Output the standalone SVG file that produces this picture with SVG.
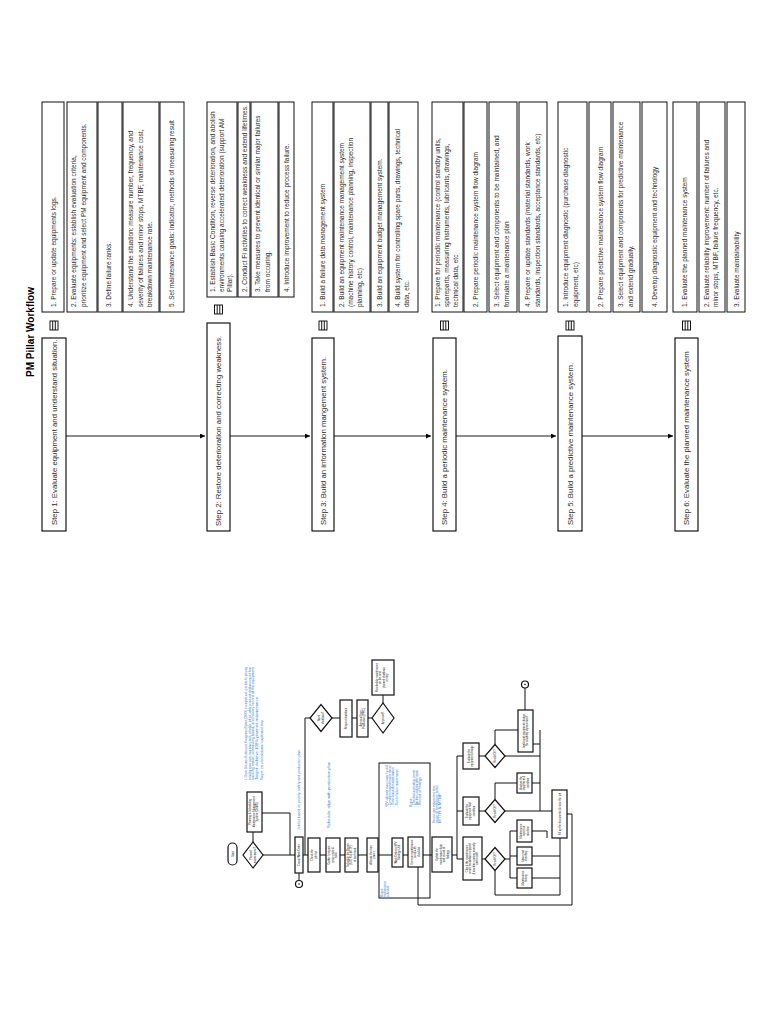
<svg xmlns="http://www.w3.org/2000/svg" width="768" height="1024" viewBox="0 0 768 1024">
<style>
text{font-family:"Liberation Sans",Arial,sans-serif;fill:#2a2a2a}
.title{font-size:10px;font-weight:bold;text-anchor:middle;fill:#000}
.step{font-size:7.8px}
.li{font-size:6.5px}
.box{fill:#fff;stroke:#000;stroke-width:1.1}
.lbox{fill:#fff;stroke:#111;stroke-width:1}
.ic{fill:#fff;stroke:#000;stroke-width:0.9}
.ln{fill:none;stroke:#000;stroke-width:0.9}
.fc{fill:#fff;stroke:#111;stroke-width:1.2}
.fl{fill:none;stroke:#111;stroke-width:1}
.ft{font-size:2.6px;text-anchor:middle;fill:#222}
.bl{font-size:2.8px;fill:#2f7ad6}
</style>
<defs>
<marker id="ar" viewBox="0 0 6 6" refX="6" refY="3" markerWidth="5" markerHeight="5" markerUnits="userSpaceOnUse" orient="auto"><path d="M0,0 L6,3 L0,6 z" fill="#000"/></marker>
</defs>
<rect width="768" height="1024" fill="#fff"/>
<g transform="matrix(0,-1,1,0,0,1024)">
<text id="title" class="title" x="692" y="34">PM Pillar Workflow</text>

<g id="connectors">
<path class="ln" d="M588,66 V205" marker-end="url(#ar)"/>
<path class="ln" d="M588,230 V310" marker-end="url(#ar)"/>
<path class="ln" d="M588,334 V431" marker-end="url(#ar)"/>
<path class="ln" d="M588,456 V556" marker-end="url(#ar)"/>
<path class="ln" d="M588,582 V673" marker-end="url(#ar)"/>
</g>

<g id="step1">
<rect class="box" x="493" y="42" width="193" height="24"/>
<text class="step" x="499" y="56.7">Step 1: Evaluate equipment and understand situation.</text>
<rect class="ic" x="694" y="50" width="9" height="8"/><path class="ln" d="M694,52.7 H703 M694,55.3 H703"/>
<rect class="lbox" x="712" y="42" width="210" height="22"/>
<text class="li" x="717" y="55.5">1. Prepare or update equipments logs.</text>
<rect class="lbox" x="712" y="67" width="210" height="30"/>
<text class="li" x="717" y="76">2. Evaluate equipments: establish evaluation criteria,</text>
<text class="li" x="717" y="86">prioritize equipment and select PM equipment and components.</text>
<rect class="lbox" x="712" y="98" width="210" height="24"/>
<text class="li" x="717" y="111">3. Define failure ranks.</text>
<rect class="lbox" x="712" y="123" width="210" height="36"/>
<text class="li" x="717" y="133">4. Understand the situation: measure number, frequency, and</text>
<text class="li" x="717" y="142.5">severity of failures and minor stops, MTBF, maintenance cost,</text>
<text class="li" x="717" y="152">breakdown maintenance rate.</text>
<rect class="lbox" x="712" y="160" width="210" height="24"/>
<text class="li" x="717" y="174">5. Set maintenance goals: indicator, methods of measuring result</text>
</g>

<g id="step2">
<rect class="box" x="493" y="207" width="208" height="23"/>
<text class="step" x="498" y="221.2">Step 2: Restore deterioration and correcting weakness.</text>
<rect class="ic" x="710" y="214.5" width="9" height="8"/><path class="ln" d="M710,217.2 H719 M710,219.8 H719"/>
<rect class="lbox" x="727" y="207" width="195" height="30"/>
<text class="li" x="732" y="215">1. Establish Basic Condition, reverse deterioration, and abolish</text>
<text class="li" x="732" y="223.5">environments causing accelerated deterioration (support AM</text>
<text class="li" x="732" y="232">Pillar).</text>
<rect class="lbox" x="727" y="238" width="195" height="12"/>
<text class="li" x="732" y="246.5">2. Conduct FI activities to correct weakness and extend lifetimes.</text>
<rect class="lbox" x="727" y="251" width="195" height="27"/>
<text class="li" x="732" y="260">3. Take measures to prevent identical or similar major failures</text>
<text class="li" x="732" y="269.5">from occuring.</text>
<rect class="lbox" x="727" y="279" width="195" height="15"/>
<text class="li" x="732" y="289">4. Introduce improvement to reduce process failure.</text>
</g>

<g id="step3">
<rect class="box" x="493" y="312" width="193" height="22"/>
<text class="step" x="499" y="325.7">Step 3: Build an information mangement system.</text>
<rect class="ic" x="694" y="319" width="9" height="8"/><path class="ln" d="M694,321.7 H703 M694,324.3 H703"/>
<rect class="lbox" x="712" y="312" width="210" height="21"/>
<text class="li" x="717" y="325">1. Build a failure data management system</text>
<rect class="lbox" x="712" y="334" width="210" height="36"/>
<text class="li" x="717" y="344">2. Build an equipment maintenance management system</text>
<text class="li" x="717" y="353">(machine history control, maintenance planning, inspection</text>
<text class="li" x="717" y="362">planning, etc)</text>
<rect class="lbox" x="712" y="371" width="210" height="17"/>
<text class="li" x="717" y="382">3. Build an equipment budget management system.</text>
<rect class="lbox" x="712" y="389" width="210" height="29"/>
<text class="li" x="717" y="399.5">4. Build system for controlling spare parts, drawings, technical</text>
<text class="li" x="717" y="409">data, etc.</text>
</g>

<g id="step4">
<rect class="box" x="493" y="433" width="193" height="23"/>
<text class="step" x="499" y="447.2">Step 4: Build a periodic maintenance system.</text>
<rect class="ic" x="694" y="440.5" width="9" height="8"/><path class="ln" d="M694,443.2 H703 M694,445.8 H703"/>
<rect class="lbox" x="712" y="432" width="210" height="31"/>
<text class="li" x="717" y="439.5">1. Prepare for periodic maintenance (control standby units,</text>
<text class="li" x="717" y="448.5">spareparts, measuring instruments, lubricants, drawings,</text>
<text class="li" x="717" y="457.5">technical data, etc</text>
<rect class="lbox" x="712" y="464" width="210" height="23"/>
<text class="li" x="717" y="478">2. Prepare periodic maintenance system flow diagram</text>
<rect class="lbox" x="712" y="489" width="210" height="28"/>
<text class="li" x="717" y="499">3. Select equipment and components to be maintained, and</text>
<text class="li" x="717" y="508.5">formulate a maintenance plan</text>
<rect class="lbox" x="712" y="519" width="210" height="28"/>
<text class="li" x="717" y="530">4. Prepare or update standards (material standards, work</text>
<text class="li" x="717" y="539.5">standards, inspection standards, acceptance standards, etc)</text>
</g>

<g id="step5">
<rect class="box" x="493" y="558" width="195" height="24"/>
<text class="step" x="499" y="572.7">Step 5: Build a predictive maintenance system.</text>
<rect class="ic" x="694" y="566" width="9" height="8"/><path class="ln" d="M694,568.7 H703 M694,571.3 H703"/>
<rect class="lbox" x="712" y="558" width="210" height="29"/>
<text class="li" x="717" y="568">1. Introduce equipment diagnostic (purchase diagnostic</text>
<text class="li" x="717" y="577.5">equipment, etc)</text>
<rect class="lbox" x="712" y="589" width="210" height="22"/>
<text class="li" x="717" y="602.5">2. Prepare predictive maintenance system flow diagram</text>
<rect class="lbox" x="712" y="613" width="210" height="27"/>
<text class="li" x="717" y="623">3. Select equipment and components for predictive maintenance</text>
<text class="li" x="717" y="632.5">and extend gradually.</text>
<rect class="lbox" x="712" y="642" width="210" height="25"/>
<text class="li" x="717" y="656.5">4. Develop diagnostic equipment and technology</text>
</g>

<g id="step6">
<rect class="box" x="493" y="675" width="193" height="23"/>
<text class="step" x="499" y="689.2">Step 6: Evaluate the planned maintenance system</text>
<rect class="ic" x="694" y="682.5" width="9" height="8"/><path class="ln" d="M694,685.2 H703 M694,687.8 H703"/>
<rect class="lbox" x="712" y="673" width="210" height="24"/>
<text class="li" x="717" y="687">1. Evaluate the planned maintenance system</text>
<rect class="lbox" x="712" y="699" width="210" height="26"/>
<text class="li" x="717" y="708.5">2. Evaluate reliability improvement: number of failures and</text>
<text class="li" x="717" y="718">minor stops, MTBF, failure frequency, etc.</text>
<rect class="lbox" x="712" y="727" width="210" height="18"/>
<text class="li" x="717" y="738.5">3. Evaluate maintainability</text>
</g>

<g id="flowchart">
<g id="fc-connectors">
<path class="fl" d="M182,253 H192"/>
<path class="fl" d="M211,262 V290 H169"/>
<path class="fl" d="M169,263 V295"/>
<path class="fl" d="M151,299 H143.5"/>
<path class="fl" d="M169,303 V308 M169,320 V326 M169,340 V345 M169,358 V367 M169,378 V392 M169,403 V408 M169,423 V432 M169,452 V457"/>
<path class="fl" d="M169,305 H306 V310"/>
<path class="fl" d="M306,332 V340 M306,352 V357 M306,368 V372 M321,383 H329"/>
<path class="fl" d="M165,457 H268 M165,457 V463 M213,457 V463 M268,457 V463"/>
<path class="fl" d="M165,482 V485 M213,479 V485 M268,479 V485"/>
<path class="fl" d="M165,505 V510 M146,510 H193 M193,510 V517 M168,510 V517 M146,510 V517"/>
<path class="fl" d="M153.5,495 H129 V560 H186"/>
<path class="fl" d="M193,532 V547 H186 M168,532 V560 M146,532 V560"/>
<path class="fl" d="M224.5,495 H241 V517 M213,505 V552 M241,532 V540 M213,540 H294"/>
<path class="fl" d="M279.5,495 H294 V518 M268,505 V540 M280,533 V540"/>
<path class="fl" d="M314,525 H336"/>
<path class="fl" d="M210,567 V572 H119 V418 H157"/>
<rect class="fl" x="126" y="379" width="135" height="51"/>
</g>

<g id="fc-start"><rect class="fc" x="159" y="228" width="22" height="9" rx="4.5"/><text class="ft" x="170" y="233.5">Start</text></g>
<g id="fc-d1"><polygon class="fc" points="156,253 169,243 182,253 169,263"/><text class="ft" x="169" y="252">Planned</text><text class="ft" x="169" y="255.5">maintenance?</text></g>
<g id="fc-cmms"><rect class="fc" x="192" y="247" width="40" height="15"/><text class="ft" x="212" y="251">Planning &amp; Scheduling</text><text class="ft" x="212" y="254.5">Maintenance Management</text><text class="ft" x="212" y="258">System (CMMS)</text></g>
<g id="fc-b1"><rect class="fc" x="151" y="295" width="36" height="8"/><text class="ft" x="169" y="300">Create Work Order</text></g>
<g id="fc-circle1"><circle class="fc" cx="140" cy="299" r="3.5"/><circle cx="140" cy="299" r="0.8" fill="#111"/></g>
<g id="fc-b2"><rect class="fc" x="152" y="308" width="34" height="12"/><text class="ft" x="169" y="313">Check the</text><text class="ft" x="169" y="316.5">job list</text></g>
<g id="fc-b3"><rect class="fc" x="152" y="326" width="34" height="14"/><text class="ft" x="169" y="330">Gather / prepare</text><text class="ft" x="169" y="333.5">spare parts &amp;</text><text class="ft" x="169" y="337">tools</text></g>
<g id="fc-b4"><rect class="fc" x="152" y="345" width="34" height="13"/><text class="ft" x="169" y="349">Schedule the Repair</text><text class="ft" x="169" y="352.3">(MTTR &amp; MTTF)</text><text class="ft" x="169" y="355.6">of each task</text></g>
<g id="fc-b5"><rect class="fc" x="152" y="367" width="34" height="11"/><text class="ft" x="169" y="371.5">Allocate the man</text><text class="ft" x="169" y="375">power</text></g>
<g id="fc-b6"><rect class="fc" x="157" y="392" width="29" height="11"/><text class="ft" x="171.5" y="396.5">Work Order to SPV</text><text class="ft" x="171.5" y="400">Strategy Unit</text></g>
<g id="fc-b7"><rect class="fc" x="157" y="408" width="30" height="15"/><text class="ft" x="172" y="412.5">Execute maintenance</text><text class="ft" x="172" y="416">work with</text><text class="ft" x="172" y="419.5">checklist</text></g>
<g id="fc-b8"><rect class="fc" x="152" y="432" width="35" height="20"/><text class="ft" x="169.5" y="438">Update the</text><text class="ft" x="169.5" y="441.5">maintenance data</text><text class="ft" x="169.5" y="445">and record of</text><text class="ft" x="169.5" y="448.5">findings</text></g>
<g id="fc-dd"><polygon class="fc" points="292.5,321 306,310 319.5,321 306,332"/><text class="ft" x="306" y="320">Need</text><text class="ft" x="306" y="323.5">shutdown?</text></g>
<g id="fc-be"><rect class="fc" x="287" y="340" width="37" height="12"/><text class="ft" x="305.5" y="347">Request shutdown</text></g>
<g id="fc-bf"><rect class="fc" x="287" y="357" width="37" height="11"/><text class="ft" x="305.5" y="361.5">Approval from</text><text class="ft" x="305.5" y="365">Production (PPIC)</text></g>
<g id="fc-dg"><polygon class="fc" points="291,383 306,372 321,383 306,394"/><text class="ft" x="306" y="384">Approved?</text></g>
<g id="fc-bh"><rect class="fc" x="329" y="372" width="35" height="22"/><text class="ft" x="346.5" y="377.5">Reschedule maintenance</text><text class="ft" x="346.5" y="381">on the next</text><text class="ft" x="346.5" y="384.5">planned shutdown</text><text class="ft" x="346.5" y="388">or stop</text></g>
<g id="fc-ba"><rect class="fc" x="144" y="463" width="43" height="19"/><text class="ft" x="165.5" y="467.5">Check the maintenance</text><text class="ft" x="165.5" y="471">result: breakdown repaired</text><text class="ft" x="165.5" y="474.5">&amp; machine running normally</text><text class="ft" x="165.5" y="478">and record</text></g>
<g id="fc-bb"><rect class="fc" x="199" y="463" width="28" height="16"/><text class="ft" x="213" y="467.5">Evaluate the</text><text class="ft" x="213" y="471">equipment final</text><text class="ft" x="213" y="474.5">condition</text></g>
<g id="fc-bc"><rect class="fc" x="255" y="463" width="26" height="16"/><text class="ft" x="268" y="469.5">Evaluate the</text><text class="ft" x="268" y="473">equipment change</text></g>
<g id="fc-da"><polygon class="fc" points="153.5,495 165,485 176.5,495 165,505"/><text class="ft" x="165" y="496">Result OK?</text></g>
<g id="fc-db"><polygon class="fc" points="201.5,495 213,485 224.5,495 213,505"/><text class="ft" x="213" y="496">Result OK?</text></g>
<g id="fc-dc"><polygon class="fc" points="256.5,495 268,485 279.5,495 268,505"/><text class="ft" x="268" y="496">Result OK?</text></g>
<g id="fc-a1"><rect class="fc" x="182" y="517" width="22" height="15"/><text class="ft" x="193" y="521.5">Maintenance</text><text class="ft" x="193" y="525">report on</text><text class="ft" x="193" y="528.5">machine</text></g>
<g id="fc-a2"><rect class="fc" x="159" y="517" width="18" height="15"/><text class="ft" x="168" y="523.5">Spare part</text><text class="ft" x="168" y="527">inventory</text></g>
<g id="fc-a3"><rect class="fc" x="136" y="517" width="20" height="15"/><text class="ft" x="146" y="523.5">Maintenance</text><text class="ft" x="146" y="527">history</text></g>
<g id="fc-b1b"><rect class="fc" x="231" y="517" width="20" height="15"/><text class="ft" x="241" y="521.5">Analyze the</text><text class="ft" x="241" y="525">equipment &amp;</text><text class="ft" x="241" y="528.5">condition</text></g>
<g id="fc-c1"><rect class="fc" x="272" y="518" width="42" height="15"/><text class="ft" x="293" y="524.5">Implement equipment change</text><text class="ft" x="293" y="528">for reliability improvement</text></g>
<g id="fc-circle2"><circle class="fc" cx="339.5" cy="525" r="3.5"/><circle cx="339.5" cy="525" r="0.8" fill="#111"/></g>
<g id="fc-big"><rect class="fc" x="186" y="552" width="48" height="15"/><text class="ft" x="210" y="560.5">Fill up the documents &amp; close the job</text></g>

<g id="fc-notes">
<text class="bl" x="244" y="247" textLength="113" lengthAdjust="spacingAndGlyphs">1. Check: Dokumen Maintenance Management System (CMMS) is complete and up to date for planning</text>
<text class="bl" x="244" y="250.5" textLength="113" lengthAdjust="spacingAndGlyphs">including spare parts, man power, tools, schedule, job list, safety permit and shutdown request form</text>
<text class="bl" x="244" y="254" textLength="113" lengthAdjust="spacingAndGlyphs">tracking report, scheduling board, and history record of the equipment</text>
<text class="bl" x="244" y="257.5" textLength="83" lengthAdjust="spacingAndGlyphs">Target: achieve 100% planned maintenance</text>
<text class="bl" x="244" y="263" textLength="60" lengthAdjust="spacingAndGlyphs">Target: zero breakdown / unplanned stop</text>
<text class="bl" x="194" y="300" textLength="80" lengthAdjust="spacingAndGlyphs">Job list based on priority, safety and production plan</text>
<text class="bl" x="196" y="330" textLength="66" lengthAdjust="spacingAndGlyphs">Schedule: align with production plan</text>
<text class="bl" x="217" y="388" textLength="42" lengthAdjust="spacingAndGlyphs">SPV: allocate man power by skill</text>
<text class="bl" x="217" y="391" textLength="42" lengthAdjust="spacingAndGlyphs">- Condition based maintenance</text>
<text class="bl" x="217" y="394" textLength="40" lengthAdjust="spacingAndGlyphs">- Time based maintenance</text>
<text class="bl" x="217" y="397.5" textLength="38" lengthAdjust="spacingAndGlyphs">- Run to failure maintenance</text>
<text class="bl" x="217" y="412">Output:</text>
<text class="bl" x="217" y="415" textLength="37" lengthAdjust="spacingAndGlyphs">- Checklist and safety permit</text>
<text class="bl" x="217" y="418" textLength="37" lengthAdjust="spacingAndGlyphs">- Machine condition after repair</text>
<text class="bl" x="217" y="421" textLength="30" lengthAdjust="spacingAndGlyphs">- Record of findings</text>
<text class="bl" x="201" y="435" textLength="38" lengthAdjust="spacingAndGlyphs">Record: part replacement, time,</text>
<text class="bl" x="201" y="438" textLength="38" lengthAdjust="spacingAndGlyphs">cause of breakdown, action</text>
<text class="bl" x="201" y="441" textLength="30" lengthAdjust="spacingAndGlyphs">MTTR &amp; MTBF</text>
<text class="bl" x="127" y="382.5">Output:</text>
<text class="bl" x="127" y="385.5">maintenance</text>
<text class="bl" x="127" y="388.5">schedule</text>
</g>
</g>
</g>
</svg>
